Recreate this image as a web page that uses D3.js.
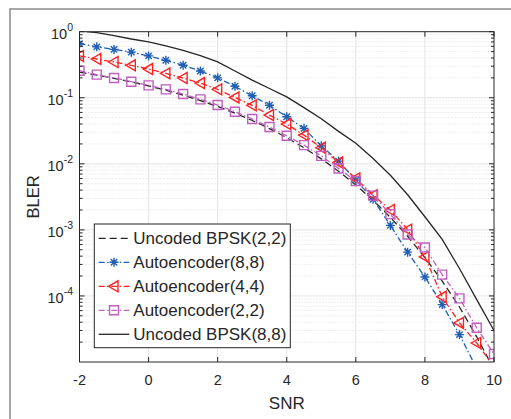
<!DOCTYPE html>
<meta charset="utf-8">
<style>
body { margin: 0; background: #fff; }
text { font-family: "Liberation Sans", Arial, sans-serif; fill: #262626; }
.grid-major { stroke: #e3e3e3; stroke-width: 1; }
.grid-minor { stroke: #d6d6d6; stroke-width: 0.8; stroke-dasharray: 1,2; }
.axis-line { stroke: #262626; stroke-width: 1; fill: none; }
</style>
<body>
<script src="https://d3js.org/d3.v7.min.js"></script>
<script>

// SNR grid (dB)
var snr = [-2, -1.5, -1, -0.5, 0, 0.5, 1, 1.5, 2, 2.5, 3, 3.5, 4, 4.5, 5, 5.5, 6, 6.5, 7, 7.5, 8, 8.5, 9, 9.5, 10];

// series
var uncoded22 = [0.244, 0.22, 0.197, 0.174, 0.151, 0.13, 0.109, 0.0906, 0.0736, 0.0583, 0.0453, 0.0341, 0.0249, 0.0175, 0.0119, 0.0077, 0.0048, 0.0028, 0.00155, 0.0008, 0.00038, 0.000168, 0.000068, 0.000024, 0.0000077];
var ae88 = [0.66, 0.59, 0.54, 0.49, 0.43, 0.37, 0.31, 0.254, 0.2, 0.149, 0.107, 0.077, 0.0515, 0.0344, 0.0187, 0.011, 0.00566, 0.0029, 0.00117, 0.00046, 0.000194, 0.000074, 0.000026, 0.000008];
var ae44 = [0.43, 0.386, 0.348, 0.31, 0.272, 0.234, 0.199, 0.167, 0.134, 0.101, 0.0767, 0.0547, 0.04, 0.0272, 0.0175, 0.0105, 0.006, 0.00336, 0.002, 0.00101, 0.00039, 0.000097, 0.000039, 0.0000194, 0.0000085];
var ae22 = [0.257, 0.224, 0.199, 0.175, 0.154, 0.134, 0.114, 0.0946, 0.0776, 0.0614, 0.0476, 0.036, 0.0266, 0.0192, 0.0132, 0.0085, 0.0055, 0.0033, 0.00173, 0.00085, 0.00054, 0.00021, 0.000092, 0.000033, 0.0000132];
var snrSolid = [-1.8, -1.5, -1, -0.5, 0, 0.5, 1, 1.5, 2, 2.5, 3, 3.5, 4, 4.5, 5, 5.5, 6, 6.5, 7, 7.5, 8, 8.5, 9, 9.5, 10];
var uncoded88 = [1.0, 0.97, 0.87, 0.775, 0.7, 0.61, 0.52, 0.435, 0.35, 0.254, 0.185, 0.138, 0.103, 0.071, 0.048, 0.031, 0.0205, 0.012, 0.0067, 0.0034, 0.00158, 0.00072, 0.00026, 0.000088, 0.00003];

var xTicks = [-2, 0, 2, 4, 6, 8, 10];
var yTicks = [1, 0.1, 0.01, 0.001, 0.0001];
var yExp = ["0", "-1", "-2", "-3", "-4"];

// plot box
var pLeft = 79.5, pRight = 494, pTop = 31.7, pBottom = 362;

var x = d3.scaleLinear().domain([-2, 10]).range([pLeft, pRight]);
var y = d3.scaleLog().domain([1e-5, 1]).range([pBottom, pTop]);

var svg = d3.select("body").append("svg")
    .attr("width", 511)
    .attr("height", 419);

svg.append("rect").attr("width", 511).attr("height", 419).attr("fill", "#fff");

// outer figure frame
svg.append("rect")
    .attr("x", 10).attr("y", 9)
    .attr("width", 520).attr("height", 430)
    .attr("fill", "none")
    .attr("stroke", "#8a8a8a")
    .attr("stroke-width", 1.5);

svg.append("rect")
    .attr("x", pLeft).attr("y", pTop)
    .attr("width", pRight - pLeft).attr("height", pBottom - pTop)
    .attr("fill", "#fff");

// minor y grid
var minorY = [];
[1e-5, 1e-4, 1e-3, 1e-2, 1e-1].forEach(function(d) {
  for (var k = 2; k <= 9; k++) minorY.push(d * k);
});

svg.append("g").selectAll("line")
    .data(minorY)
  .enter().append("line")
    .attr("class", "grid-minor")
    .attr("x1", pLeft).attr("x2", pRight)
    .attr("y1", function(d) { return y(d); })
    .attr("y2", function(d) { return y(d); });

// major grid
svg.append("g").selectAll("line")
    .data(yTicks.slice(1))
  .enter().append("line")
    .attr("class", "grid-major")
    .attr("x1", pLeft).attr("x2", pRight)
    .attr("y1", function(d) { return y(d); })
    .attr("y2", function(d) { return y(d); });

svg.append("g").selectAll("line")
    .data(xTicks.slice(1, -1))
  .enter().append("line")
    .attr("class", "grid-major")
    .attr("y1", pTop).attr("y2", pBottom)
    .attr("x1", function(d) { return x(d); })
    .attr("x2", function(d) { return x(d); });

// clip for the curves
svg.append("clipPath").attr("id", "clip")
  .append("rect")
    .attr("x", pLeft).attr("y", pTop)
    .attr("width", pRight - pLeft).attr("height", pBottom - pTop);

var plot = svg.append("g").attr("clip-path", "url(#clip)");

var line = d3.line()
    .x(function(d) { return x(d[0]); })
    .y(function(d) { return y(d[1]); });

function pairs(xs, ys) {
  return ys.map(function(v, i) { return [xs[i], v]; });
}

var starPath = "M-4.5,0L4.5,0M0,-4.5L0,4.5M-3.2,-3.2L3.2,3.2M-3.2,3.2L3.2,-3.2";
var triPath = "M-5.5,0L4,-5.5L4,5.5Z";
var sqPath = "M-4.5,-4.5L4.5,-4.5L4.5,4.5L-4.5,4.5Z";

var series = [
  {name: "Uncoded BPSK(2,2)", xs: snr, ys: uncoded22, color: "#262626", dash: "7,4", marker: null},
  {name: "Autoencoder(8,8)", xs: snr, ys: ae88, color: "#1f5fb4", dash: "6,2.5,1.5,2.5", marker: starPath},
  {name: "Autoencoder(4,4)", xs: snr, ys: ae44, color: "#ff2020", dash: "6,2.5,1.5,2.5", marker: triPath},
  {name: "Autoencoder(2,2)", xs: snr, ys: ae22, color: "#bf5fbf", dash: "6,2.5,1.5,2.5", marker: sqPath},
  {name: "Uncoded BPSK(8,8)", xs: snrSolid, ys: uncoded88, color: "#262626", dash: null, marker: null}
];

series.forEach(function(s) {
  var data = pairs(s.xs, s.ys);
  plot.append("path")
      .datum(data)
      .attr("fill", "none")
      .attr("stroke", s.color)
      .attr("stroke-width", 1.3)
      .attr("stroke-dasharray", s.dash)
      .attr("d", line);
  if (s.marker) {
    plot.append("g").selectAll("path")
        .data(data)
      .enter().append("path")
        .attr("d", s.marker)
        .attr("transform", function(d) { return "translate(" + x(d[0]) + "," + y(d[1]) + ")"; })
        .attr("fill", "none")
        .attr("stroke", s.color)
        .attr("stroke-width", 1.4);
  }
});

// axes box and ticks
svg.append("rect")
    .attr("class", "axis-line")
    .attr("x", pLeft).attr("y", pTop)
    .attr("width", pRight - pLeft).attr("height", pBottom - pTop);

var ticks = svg.append("g").attr("stroke", "#262626").attr("stroke-width", 1);

xTicks.forEach(function(d) {
  ticks.append("line").attr("x1", x(d)).attr("x2", x(d)).attr("y1", pBottom).attr("y2", pBottom - 5);
  ticks.append("line").attr("x1", x(d)).attr("x2", x(d)).attr("y1", pTop).attr("y2", pTop + 5);
});
yTicks.forEach(function(d) {
  ticks.append("line").attr("x1", pLeft).attr("x2", pLeft + 5).attr("y1", y(d)).attr("y2", y(d));
  ticks.append("line").attr("x1", pRight).attr("x2", pRight - 5).attr("y1", y(d)).attr("y2", y(d));
});
minorY.forEach(function(d) {
  ticks.append("line").attr("x1", pLeft).attr("x2", pLeft + 3).attr("y1", y(d)).attr("y2", y(d));
  ticks.append("line").attr("x1", pRight).attr("x2", pRight - 3).attr("y1", y(d)).attr("y2", y(d));
});

// tick labels
svg.append("g").selectAll("text")
    .data(xTicks)
  .enter().append("text")
    .attr("x", function(d) { return x(d); })
    .attr("y", 385)
    .attr("text-anchor", "middle")
    .attr("font-size", 14.5)
    .attr("fill", "#404040")
    .text(function(d) { return d; });

var yl = svg.append("g").selectAll("text")
    .data(yTicks)
  .enter().append("text")
    .attr("x", 73)
    .attr("y", function(d) { return y(d) + 7; })
    .attr("text-anchor", "end")
    .attr("font-size", 14.5)
    .attr("fill", "#404040");
yl.append("tspan").text("10");
yl.append("tspan")
    .attr("dy", -8)
    .attr("font-size", 10.5)
    .text(function(d, i) { return yExp[i]; });

// axis titles
svg.append("text")
    .attr("x", (pLeft + pRight) / 2)
    .attr("y", 409)
    .attr("text-anchor", "middle")
    .attr("font-size", 17)
    .text("SNR");

svg.append("text")
    .attr("transform", "translate(39," + (pTop + pBottom) / 2 + ") rotate(-90)")
    .attr("text-anchor", "middle")
    .attr("font-size", 16.5)
    .text("BLER");

// legend
var lg = svg.append("g");
lg.append("rect")
    .attr("x", 94.3).attr("y", 224)
    .attr("width", 196).attr("height", 123.7)
    .attr("fill", "#fff")
    .attr("stroke", "#262626")
    .attr("stroke-width", 1);

series.forEach(function(s, i) {
  var cy = 238.3 + i * 24;
  lg.append("line")
      .attr("x1", 98.7).attr("x2", 129.3)
      .attr("y1", cy).attr("y2", cy)
      .attr("stroke", s.color)
      .attr("stroke-width", 1.3)
      .attr("stroke-dasharray", s.dash);
  if (s.marker) {
    lg.append("path")
        .attr("d", s.marker)
        .attr("transform", "translate(114," + cy + ")")
        .attr("fill", "none")
        .attr("stroke", s.color)
        .attr("stroke-width", 1.4);
  }
  lg.append("text")
      .attr("x", 133.3)
      .attr("y", cy + 6)
      .attr("font-size", 17)
      .text(s.name);
});

</script>
</body>
